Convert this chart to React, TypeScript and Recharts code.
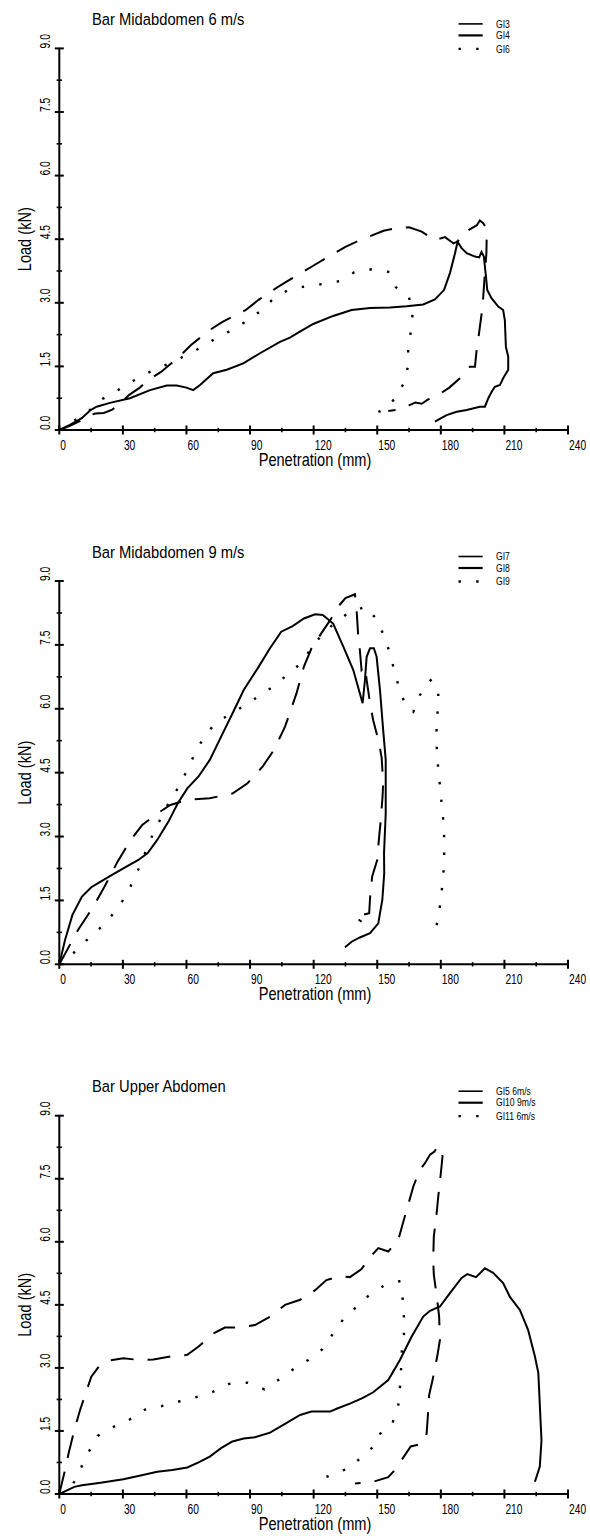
import React from 'react';
import { LineChart, Line, XAxis, YAxis } from 'recharts';

type Pt = [number, number];

// penetration (mm), load (kN)
const gi3: Pt[] = [
  [0, 0], [5, 0.1], [10, 0.22], [14, 0.35], [17, 0.39], [21, 0.4], [25, 0.48], [28, 0.6],
  [33, 0.83], [38, 1.0], [42, 1.18], [48, 1.37], [57, 1.75], [62, 2.0], [71, 2.36], [77, 2.55],
  [88, 2.83], [94, 3.07], [103, 3.37], [109, 3.55], [119, 3.85], [125, 4.03], [135, 4.32],
  [142, 4.48], [153, 4.7], [160, 4.77], [165, 4.78], [171, 4.68], [177, 4.48], [182, 4.55],
  [186, 4.4], [188, 4.45], [190.6, 4.64], [197, 4.83], [198.4, 4.94], [200, 4.88], [201.7, 4.73],
  [201.5, 4.17], [200.5, 3.5], [199.7, 2.91], [197.6, 2.12], [196.9, 1.89], [196.1, 1.49],
  [193.7, 1.49], [189, 1.22], [184, 1.0], [180.4, 0.88], [174, 0.72], [171, 0.62], [168, 0.65],
  [165, 0.58], [163.9, 0.55], [158.8, 0.47], [155.2, 0.45],
];
const gi4: Pt[] = [
  [0, 0], [5, 0.12], [10.6, 0.28], [14.5, 0.46], [17.6, 0.55], [23.9, 0.64], [33.3, 0.75],
  [42.8, 0.94], [50.7, 1.05], [55.4, 1.05], [60, 1.0], [63.2, 0.94], [66.4, 1.06], [72.6, 1.34],
  [79, 1.42], [86.8, 1.57], [94.7, 1.81], [104.1, 2.08], [108.8, 2.18], [113.5, 2.32],
  [119.8, 2.5], [129.2, 2.69], [137.9, 2.83], [146.6, 2.88], [156, 2.89], [163.9, 2.92],
  [171.7, 2.96], [177.2, 3.08], [181.5, 3.3], [184.3, 3.7], [186.7, 4.17], [187.9, 4.44],
  [189.8, 4.29], [192.2, 4.17], [196.1, 4.09], [198.1, 4.07], [199.2, 4.2], [200.3, 4.09],
  [201.3, 3.62], [201.9, 3.3], [203.9, 3.11], [207.1, 2.91], [209.4, 2.83], [210.2, 2.59],
  [210.7, 1.96], [211.8, 1.73], [211.8, 1.42], [209.4, 1.22], [207.9, 1.06], [205.5, 1.02],
  [204, 0.9], [202.4, 0.75], [200.8, 0.55], [198.4, 0.55], [192.2, 0.47], [187.5, 0.43],
  [182.7, 0.35], [177.2, 0.2],
];
const gi6: Pt[] = [
  [0, 0], [7, 0.22], [14.2, 0.46], [20.3, 0.73], [27.7, 0.94], [34.9, 1.16], [42.3, 1.36],
  [50, 1.53], [57.7, 1.71], [65, 1.9], [72.5, 2.12], [80, 2.32], [87.1, 2.53], [94.2, 2.78],
  [100.5, 3.07], [107.5, 3.29], [115.4, 3.38], [123.8, 3.44], [132.1, 3.51], [139.2, 3.72],
  [147.4, 3.79], [155.2, 3.73], [158.8, 3.37], [165, 3.13], [166.7, 2.75], [165.9, 2.33],
  [164.6, 1.94], [164.6, 1.52], [162.7, 1.12], [158.8, 0.76], [152.8, 0.47], [145.3, 0.33],
];

const gi7: Pt[] = [
  [0, 0], [8.9, 0.81], [16, 1.35], [21.3, 1.82], [27.5, 2.41], [33.7, 2.92], [39.1, 3.27],
  [46.2, 3.54], [52.4, 3.74], [60.4, 3.86], [71, 3.9], [81.7, 4.01], [88.8, 4.25], [95.9, 4.64],
  [101.2, 5.03], [106.5, 5.58], [111.9, 6.36], [115.4, 6.99], [119, 7.42], [122.5, 7.69],
  [127.8, 8.08], [131.6, 8.4], [135, 8.6], [139.5, 8.69], [140.3, 8.28], [141, 7.73],
  [141.8, 7.38], [142.6, 6.91], [144.2, 7.0], [145, 6.68], [146.6, 6.13], [148.1, 5.73],
  [150.9, 5.19], [152.1, 4.84], [152.8, 4.26], [152.5, 3.93], [151.6, 3.35], [150.9, 3.0],
  [150, 2.45], [147.6, 2.06], [146.6, 1.55], [146.2, 1.2], [139.5, 1.12], [142.6, 1.0],
];
const gi8: Pt[] = [
  [0, 0], [2.7, 0.57], [6.2, 1.16], [10.7, 1.59], [15.1, 1.81], [19.5, 1.94], [24.9, 2.1],
  [30.2, 2.25], [37.3, 2.45], [41.7, 2.61], [46.2, 2.92], [51.5, 3.35], [55.9, 3.78],
  [60.4, 4.13], [65.7, 4.41], [71, 4.8], [76.3, 5.34], [81.7, 5.89], [87, 6.44], [94.1, 6.99],
  [99.4, 7.42], [104.7, 7.81], [110.1, 7.94], [115.4, 8.12], [120.7, 8.22], [124.3, 8.2],
  [129.2, 8.0], [134, 7.46], [138.7, 6.91], [143.1, 6.13], [144.2, 6.67], [145, 7.22],
  [146.6, 7.42], [148.4, 7.42], [149.7, 7.22], [151.3, 6.44], [152.8, 5.5], [154, 4.8],
  [154, 3.54], [153.2, 2.61], [153.3, 2.14], [152.4, 1.51], [151.3, 1.2], [150.5, 0.96],
  [146.6, 0.73], [141.8, 0.63], [137.9, 0.53], [134.8, 0.4],
];
const gi9: Pt[] = [
  [0, 0], [6.6, 0.26], [12.8, 0.56], [19.2, 0.85], [24.5, 1.13], [29.8, 1.49], [33.7, 1.84],
  [37.3, 2.23], [44, 3.04], [47.6, 3.4], [51.5, 3.78], [55.9, 4.13], [59.5, 4.48], [63.4, 4.89],
  [67.5, 5.27], [72.4, 5.59], [79, 5.83], [86.6, 6.05], [93.7, 6.28], [100.8, 6.52],
  [107.4, 6.79], [113.6, 7.05], [117.5, 7.32], [121.6, 7.6], [126, 7.85], [131, 8.05],
  [137.1, 8.28], [145, 8.4], [150.5, 8.04], [153.6, 7.65], [156.3, 7.26], [158.3, 6.83],
  [160.7, 6.44], [163.5, 6.06], [167, 5.93], [170.1, 6.32], [175.2, 6.67], [178.8, 6.48],
  [178.8, 6.09], [178, 5.66], [178, 5.23], [178.3, 4.84], [179.2, 4.4], [179.9, 4.01],
  [180.8, 3.58], [181.5, 3.19], [181.6, 2.76], [181.5, 2.33], [180.8, 1.9], [179.9, 1.49],
  [178.8, 1.06], [176.4, 0.66],
];

const gi11: Pt[] = [
  [0, 0], [6.6, 0.25], [10.3, 0.63], [14.2, 1.03], [18.1, 1.38], [25.2, 1.59], [32.8, 1.76],
  [40.5, 2.01], [48.3, 2.09], [56.5, 2.2], [64.3, 2.3], [72.4, 2.43], [80.2, 2.62], [88.8, 2.65],
  [96.8, 2.49], [103.3, 2.71], [110.4, 2.97], [117.5, 3.19], [124, 3.44], [129.2, 3.82],
  [134, 4.16], [140.3, 4.46], [146.2, 4.73], [153.3, 4.96], [160.4, 5.06], [162, 4.64],
  [162.6, 4.21], [162.6, 3.78], [161.5, 3.35], [161.2, 2.93], [160.7, 2.52], [159.9, 2.1],
  [157.3, 1.7], [151.3, 1.43], [148.6, 1.14], [142.9, 0.9], [137.5, 0.63], [130, 0.49],
  [122.5, 0.33],
];
const gi10: Pt[] = [
  [0, 0], [7.1, 0.17], [10.7, 0.21], [19.5, 0.27], [30.2, 0.35], [37.3, 0.43], [46.2, 0.53],
  [53.3, 0.57], [60.4, 0.63], [65.7, 0.75], [71, 0.89], [76.3, 1.09], [81.7, 1.25], [87, 1.32],
  [92.3, 1.35], [99.4, 1.46], [106.5, 1.67], [113.6, 1.88], [119, 1.96], [127.7, 1.96],
  [131.4, 2.04], [137.1, 2.15], [143, 2.28], [148.1, 2.42], [155.2, 2.71], [160.7, 3.19],
  [166.2, 3.74], [171.7, 4.22], [174.9, 4.36], [179.6, 4.46], [184.3, 4.78], [189.8, 5.14],
  [192.5, 5.23], [196.6, 5.16], [200.8, 5.37], [204.7, 5.26], [209.4, 5.02], [212.6, 4.69],
  [217.3, 4.38], [221.2, 3.9], [224.4, 3.27], [226, 2.88], [227.1, 1.69], [227.5, 1.28],
  [226.7, 0.65], [224.4, 0.29],
];
const gi5: Pt[] = [
  [0, 0], [2.7, 0.57], [4.4, 0.97], [7.1, 1.52], [9.8, 2.0], [12.4, 2.39], [15.1, 2.79],
  [18.6, 3.03], [23.1, 3.17], [30.2, 3.23], [37.3, 3.19], [44.4, 3.2], [53.3, 3.28],
  [60.4, 3.31], [65.7, 3.51], [72.8, 3.82], [78.1, 3.96], [85.2, 3.96], [92.3, 4.02],
  [99.4, 4.22], [106.5, 4.5], [113.6, 4.62], [120.7, 4.85], [126, 5.09], [132.1, 5.18],
  [137.1, 5.16], [142.6, 5.35], [146.2, 5.61], [150.5, 5.85], [155.2, 5.77], [159.9, 6.04],
  [163, 6.6], [167, 7.31], [170, 7.7], [172.5, 7.87], [174.9, 8.07], [177, 8.15], [178.8, 8.28],
  [180.8, 8.03], [179.6, 7.43], [178.8, 7.08], [177.7, 6.52], [176.7, 6.13], [176.4, 5.57],
  [176.7, 5.21], [178.3, 4.62], [179.2, 4.22], [179.6, 3.67], [178.3, 3.27], [176.1, 2.71],
  [174.5, 2.36], [173.8, 1.8], [173.3, 1.44], [171.4, 1.2], [165.8, 1.13], [161.5, 0.81],
  [159.2, 0.62], [155.2, 0.4], [148.1, 0.29], [139.5, 0.25],
];

const xMajor = [0, 30, 60, 90, 120, 150, 180, 210, 240];
const xMinor = [15, 45, 75, 105, 135, 165, 195, 225];
const yMajor = [0, 1.5, 3, 4.5, 6, 7.5, 9];
const yMinor = [0.75, 2.25, 3.75, 5.25, 6.75, 8.25];
const xTicks = [...xMajor, ...xMinor].sort((a, b) => a - b);
const yTicks = [...yMajor, ...yMinor].sort((a, b) => a - b);

type Kind = 'dash' | 'solid' | 'dot';
interface Series { name: string; kind: Kind; points: Pt[] }
interface Panel {
  title: string;
  top: number;
  height: number;
  plotTop: number;
  plotBottom: number;
  series: Series[];
}

const panels: Panel[] = [
  {
    title: 'Bar Midabdomen 6 m/s', top: 0, height: 520, plotTop: 48.4, plotBottom: 430,
    series: [
      { name: 'GI3', kind: 'dash', points: gi3 },
      { name: 'GI4', kind: 'solid', points: gi4 },
      { name: 'GI6', kind: 'dot', points: gi6 },
    ],
  },
  {
    title: 'Bar Midabdomen 9 m/s', top: 520, height: 520, plotTop: 581, plotBottom: 964.3,
    series: [
      { name: 'GI7', kind: 'dash', points: gi7 },
      { name: 'GI8', kind: 'solid', points: gi8 },
      { name: 'GI9', kind: 'dot', points: gi9 },
    ],
  },
  {
    title: 'Bar Upper Abdomen', top: 1040, height: 499, plotTop: 1115.7, plotBottom: 1494,
    series: [
      { name: 'GI5 6m/s', kind: 'dash', points: gi5 },
      { name: 'GI10 9m/s', kind: 'solid', points: gi10 },
      { name: 'GI11 6m/s', kind: 'dot', points: gi11 },
    ],
  },
];

const W = 590;
const PLOT_LEFT = 59.3;
const PLOT_RIGHT = 568;
const FONT = "'Liberation Sans', Arial, sans-serif";

const strokeFor: Record<Kind, { width: number; dash?: string }> = {
  dash: { width: 2, dash: '23 14' },
  solid: { width: 2 },
  dot: { width: 2.4, dash: '2.4 15.3' },
};

// Arial Narrow look: Liberation Sans squeezed horizontally
const NText = ({ x, y, size, sx = 0.82, sy = 1, rotate = 0, anchor = 'start', children }: any) => (
  <text
    transform={`translate(${x},${y}) rotate(${rotate}) scale(${sx},${sy})`}
    fontFamily={FONT}
    fontSize={size}
    textAnchor={anchor}
    fill="#000"
  >
    {children}
  </text>
);

const XTick = ({ x, baseY, value }: any) => {
  const major = xMajor.includes(value);
  const h = major ? 4.5 : 2.2;
  return (
    <g>
      <line x1={x} x2={x} y1={baseY - h} y2={baseY + h} stroke="#000" strokeWidth={major ? 2 : 1.6} />
      {major && <NText x={x + 1} y={baseY + 20} size={12.5} sy={1.2}>{value}</NText>}
    </g>
  );
};

const YTick = ({ y, value }: any) => {
  const major = yMajor.includes(value);
  const h = major ? 4.5 : 2.7;
  return (
    <g>
      <line x1={PLOT_LEFT - h} x2={PLOT_LEFT + h} y1={y} y2={y} stroke="#000" strokeWidth={major ? 2 : 1.6} />
      {major && (
        <NText x={PLOT_LEFT - 9.3} y={y} size={12.5} sy={1.2} rotate={-90}>
          {value.toFixed(1)}
        </NText>
      )}
    </g>
  );
};

const ChartPanel = ({ p }: { p: Panel }) => {
  const localTop = p.plotTop - p.top;
  const localBottom = p.plotBottom - p.top;
  const legendRows = [localTop - 24.5, localTop - 13, localTop + 0.5];
  return (
    <div style={{ position: 'absolute', left: 0, top: p.top, width: W, height: p.height }}>
      <LineChart
        width={W}
        height={p.height}
        margin={{ top: localTop, right: W - PLOT_RIGHT, bottom: 0, left: 0 }}
      >
        <XAxis
          type="number"
          dataKey="x"
          domain={[0, 240]}
          ticks={xTicks}
          interval={0}
          allowDataOverflow
          height={p.height - localBottom}
          tickSize={0}
          tickMargin={0}
          tickLine={false}
          axisLine={{ stroke: '#000', strokeWidth: 2 }}
          tick={(t: any) => <XTick x={t.x} baseY={localBottom} value={t.payload.value} />}
        />
        <YAxis
          type="number"
          domain={[0, 9]}
          ticks={yTicks}
          interval={0}
          allowDataOverflow
          width={PLOT_LEFT}
          tickSize={0}
          tickMargin={0}
          tickLine={false}
          axisLine={{ stroke: '#000', strokeWidth: 2 }}
          tick={(t: any) => <YTick y={t.y} value={t.payload.value} />}
        />
        {p.series.map((s) => (
          <Line
            key={s.name}
            name={s.name}
            data={s.points.map(([x, y]) => ({ x, y }))}
            dataKey="y"
            type="linear"
            stroke="#000"
            strokeWidth={strokeFor[s.kind].width}
            strokeDasharray={strokeFor[s.kind].dash}
            dot={false}
            activeDot={false}
            isAnimationActive={false}
          />
        ))}
      </LineChart>
      <svg width={W} height={p.height} style={{ position: 'absolute', left: 0, top: 0, pointerEvents: 'none' }}>
        <NText x={92} y={localTop - 23.5} size={18} sy={0.92}>{p.title}</NText>
        {p.series.map((s, i) => (
          <g key={s.name}>
            <line
              x1={458.5}
              x2={482.7}
              y1={legendRows[i]}
              y2={legendRows[i]}
              stroke="#000"
              strokeWidth={s.kind === 'solid' ? 2.2 : s.kind === 'dot' ? 2.3 : 1.6}
              strokeDasharray={s.kind === 'dot' ? strokeFor.dot.dash : undefined}
            />
            <NText x={496} y={legendRows[i] + 3.6} size={10.5} sy={1.05}>{s.name}</NText>
          </g>
        ))}
        <NText x={315} y={localBottom + 35.5} size={17.8} anchor="middle">Penetration (mm)</NText>
        <NText x={31} y={(localTop + localBottom) / 2} size={17.8} rotate={-90} anchor="middle">Load (kN)</NText>
      </svg>
    </div>
  );
};

export default function App() {
  return (
    <div style={{ position: 'absolute', left: 0, top: 0, width: W, height: 1539, background: '#fff' }}>
      {panels.map((p) => (
        <ChartPanel key={p.title} p={p} />
      ))}
    </div>
  );
}
